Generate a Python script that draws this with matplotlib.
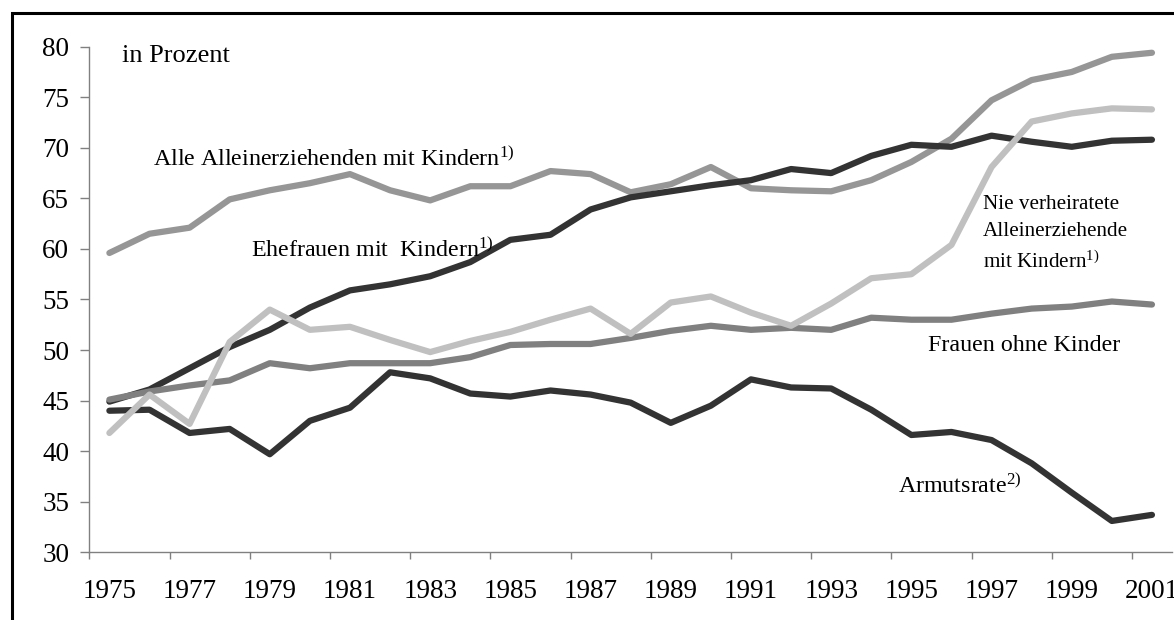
import numpy as np
import matplotlib
matplotlib.use("Agg")
import matplotlib.pyplot as plt
from matplotlib.patches import Rectangle

plt.rcParams['font.family'] = ['Liberation Serif', 'DejaVu Serif']
plt.rcParams['mathtext.fontset'] = 'custom'
plt.rcParams['mathtext.rm'] = 'Liberation Serif'
plt.rcParams['mathtext.it'] = 'Liberation Serif'

years = list(range(1975, 2002))

alle_allein = [59.6, 61.5, 62.1, 64.9, 65.8, 66.5, 67.4, 65.8, 64.8, 66.2,
               66.2, 67.7, 67.4, 65.6, 66.4, 68.1, 66.0, 65.8, 65.7, 66.8,
               68.6, 70.9, 74.7, 76.7, 77.5, 79.0, 79.4]
ehefrauen = [44.9, 46.1, 48.2, 50.3, 52.0, 54.2, 55.9, 56.5, 57.3, 58.7,
             60.9, 61.4, 63.9, 65.1, 65.7, 66.3, 66.8, 67.9, 67.5, 69.2,
             70.3, 70.1, 71.2, 70.6, 70.1, 70.7, 70.8]
nie_verh = [41.8, 45.6, 42.7, 50.8, 54.0, 52.0, 52.3, 51.0, 49.8, 50.9,
            51.8, 53.0, 54.1, 51.6, 54.7, 55.3, 53.7, 52.4, 54.6, 57.1,
            57.5, 60.4, 68.1, 72.6, 73.4, 73.9, 73.8]
ohne_kinder = [45.1, 45.9, 46.5, 47.0, 48.7, 48.2, 48.7, 48.7, 48.7, 49.3,
               50.5, 50.6, 50.6, 51.2, 51.9, 52.4, 52.0, 52.2, 52.0, 53.2,
               53.0, 53.0, 53.6, 54.1, 54.3, 54.8, 54.5]
armut = [44.0, 44.1, 41.8, 42.2, 39.7, 43.0, 44.3, 47.8, 47.2, 45.7,
         45.4, 46.0, 45.6, 44.8, 42.8, 44.5, 47.1, 46.3, 46.2, 44.1,
         41.6, 41.9, 41.1, 38.8, 35.9, 33.1, 33.7]

x_labels = [str(y) if (y - 1975) % 2 == 0 else "" for y in years]

fig = plt.figure(figsize=(11.74, 6.2), dpi=100)
ax = fig.add_axes([0.0761, 0.1092, 0.9222, 0.8155])

xi = np.arange(len(years))
lw = 4.5
ax.plot(xi, alle_allein, color='#969696', lw=lw, solid_capstyle='round', zorder=2)
ax.plot(xi, ehefrauen, color='#333333', lw=lw, solid_capstyle='round', zorder=3)
ax.plot(xi, ohne_kinder, color='#808080', lw=lw, solid_capstyle='round', zorder=4)
ax.plot(xi, armut, color='#333333', lw=lw, solid_capstyle='round', zorder=5)
ax.plot(xi, nie_verh, color='#c0c0c0', lw=lw, solid_capstyle='round', zorder=6)

ax.set_xlim(-0.5, len(years) - 0.5)
ax.set_ylim(30, 80)
ax.set_yticks(np.arange(30, 81, 5))
ax.set_xticks(np.arange(-0.5, len(years) - 0.5, 2))
ax.set_xticklabels([])
ax.set_xticks(xi, labels=x_labels, minor=True)
ax.tick_params(axis='x', which='minor', length=0, pad=19, labelsize=19.5)
ax.tick_params(axis='x', which='major', length=5, width=1, color='#808080', direction='out')
ax.tick_params(axis='y', length=6.5, width=1, color='#808080', direction='out',
               pad=8, labelsize=19.5)

for s in ['top', 'right']:
    ax.spines[s].set_visible(False)
for s in ['left', 'bottom']:
    ax.spines[s].set_color('#808080')
    ax.spines[s].set_linewidth(1)

fs = 17.3
ax.text(0.31, 78.5, "in Prozent", fontsize=19, ha='left', va='baseline')
ax.text(1.09, 68.25, r"Alle Alleinerziehenden mit Kindern$^{1)}$", fontsize=fs,
        ha='left', va='baseline')
ax.text(3.52, 59.2, r"Ehefrauen mit  Kindern$^{1)}$", fontsize=fs,
        ha='left', va='baseline')
ax.text(21.78, 63.9, "Nie verheiratete", fontsize=15.2, ha='left', va='baseline')
ax.text(21.78, 61.28, "Alleinerziehende", fontsize=15.2, ha='left', va='baseline')
ax.text(21.78, 58.08, r"mit Kindern$^{1)}$", fontsize=15.2, ha='left', va='baseline')
ax.text(20.41, 49.93, "Frauen ohne Kinder", fontsize=fs, ha='left', va='baseline')
ax.text(19.67, 35.89, r"Armutsrate$^{2)}$", fontsize=fs, ha='left', va='baseline')

# outer frame, cut off at right and bottom like the original
frame = Rectangle((12 / 1174, -0.2), 2.0, 1.2 - 13 / 620, transform=fig.transFigure,
                  fill=False, edgecolor='black', linewidth=2.2, clip_on=False)
fig.patches.append(frame)

fig.savefig("out.png", dpi=100)
